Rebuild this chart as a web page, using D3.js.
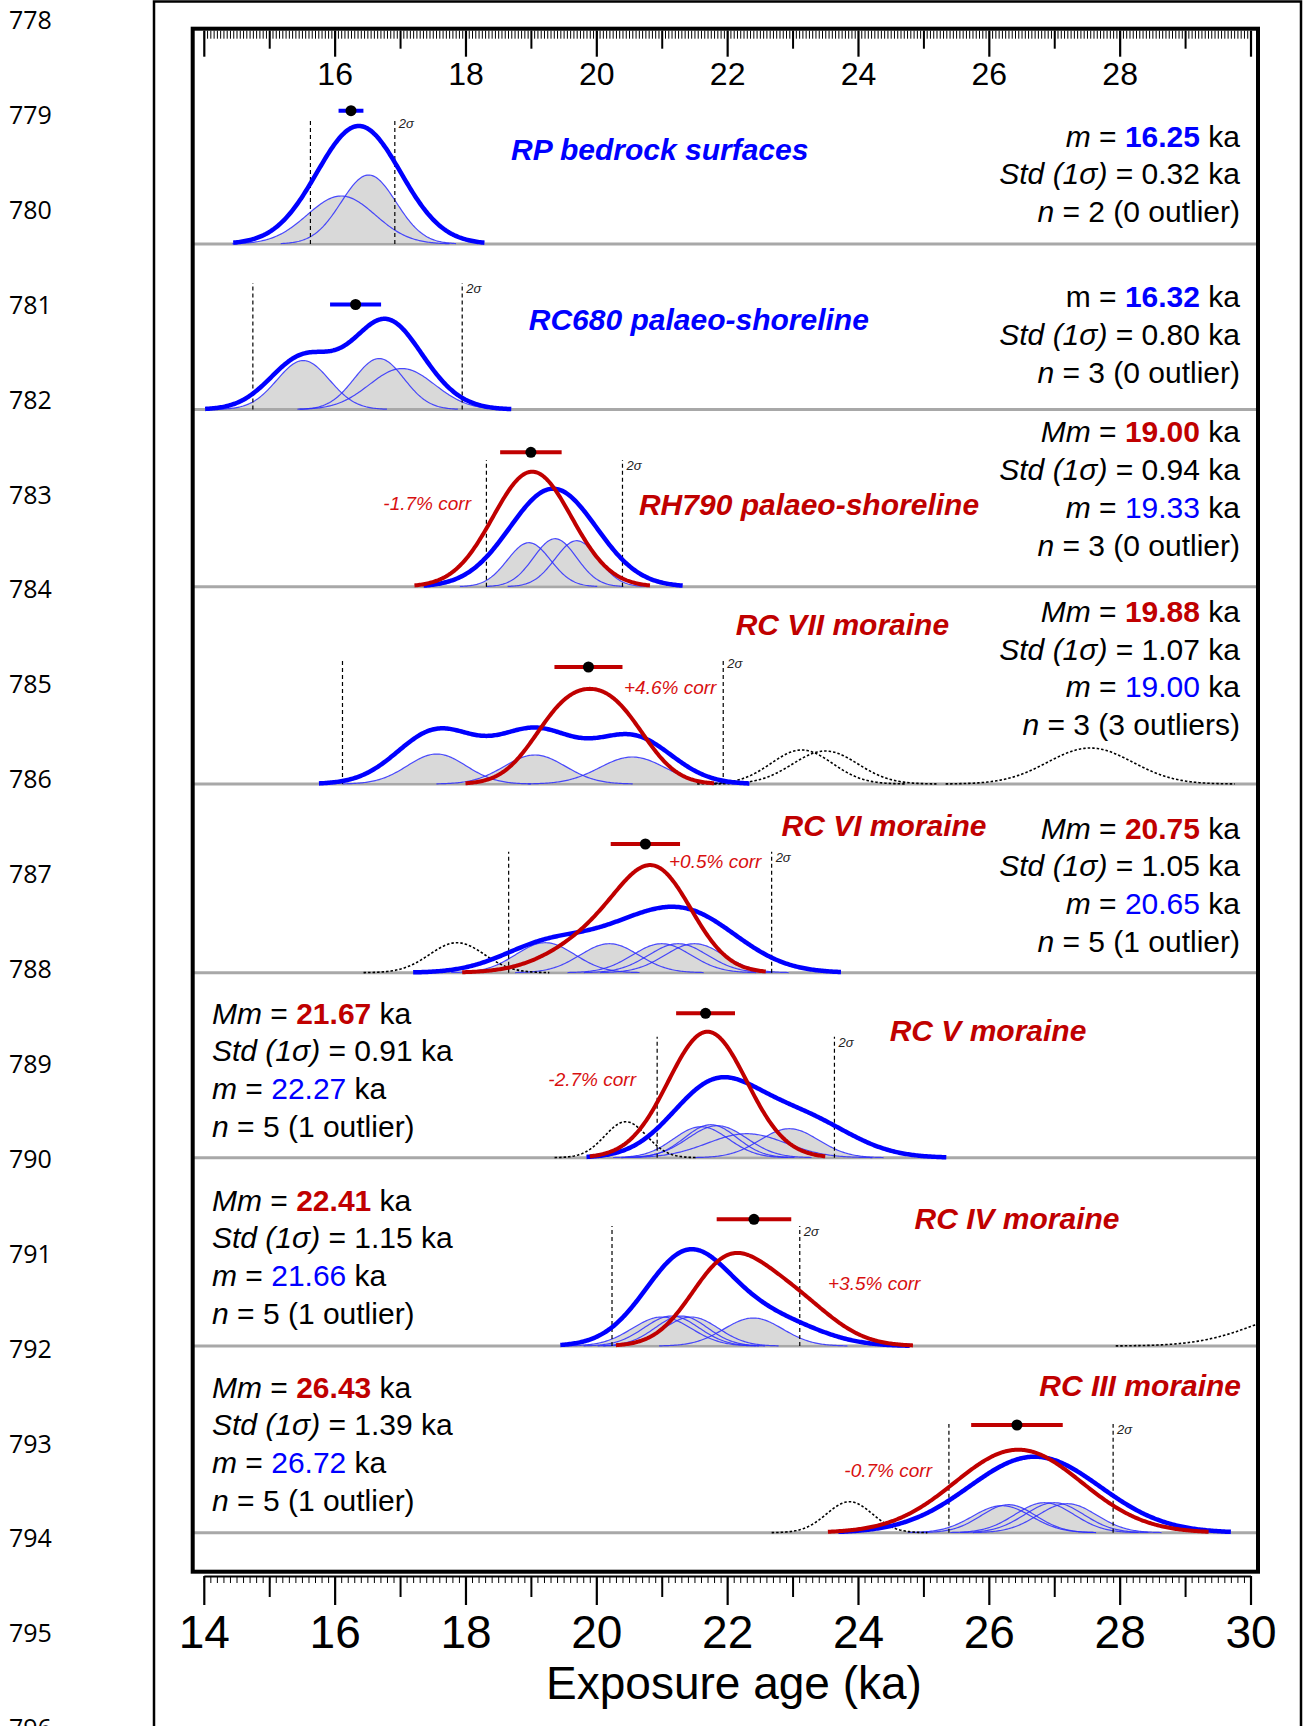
<!DOCTYPE html>
<html>
<head>
<meta charset="utf-8">
<script src="https://cdn.jsdelivr.net/npm/d3@7"></script>
<style>
  body { margin: 0; background: #fff; }
  svg text { font-family: "Liberation Sans", Arial, sans-serif; }
  svg text.linenum { font-family: "Open Sans", Lato, sans-serif; }
</style>
</head>
<body>
<svg id="fig" width="1303" height="1726"></svg>
<script>
// ---- data (ages in ka; curve components are [age, sigma, relative density]) ----
const panelTitles = ["RP bedrock surfaces", "RC680 palaeo-shoreline", "RH790 palaeo-shoreline",
    "RC VII moraine", "RC VI moraine", "RC V moraine", "RC IV moraine", "RC III moraine"];
const titleHue = ["blue", "blue", "red", "red", "red", "red", "red", "red"];
const meanMm = [null, null, 19.00, 19.88, 20.75, 21.67, 22.41, 26.43];
const meanM = [16.25, 16.32, 19.33, 19.00, 20.65, 22.27, 21.66, 26.72];
const stdKa = [0.32, 0.80, 0.94, 1.07, 1.05, 0.91, 1.15, 1.39];
const nSamples = [2, 3, 3, 3, 5, 5, 5, 5];
const nOutliers = [0, 0, 0, 3, 1, 1, 1, 1];
const corrLabel = [null, null, "-1.7% corr", "+4.6% corr", "+0.5% corr", "-2.7% corr", "+3.5% corr", "-0.7% corr"];
const twoSigma = [[15.63, 16.92], [14.75, 17.95], [18.32, 20.40], [16.12, 21.94],
    [18.66, 22.68], [20.93, 23.64], [20.24, 23.11], [25.39, 27.90]];
const errHalf = [0.19, 0.39, 0.47, 0.52, 0.53, 0.45, 0.57, 0.70];

const thinCurves = [
    [[16.10, 0.52, 0.48], [16.52, 0.42, 0.69]],
    [[15.52, 0.40, 0.49], [16.68, 0.38, 0.51], [17.03, 0.50, 0.41]],
    [[18.97, 0.33, 0.44], [19.37, 0.33, 0.48], [19.70, 0.33, 0.46]],
    [[17.56, 0.45, 0.30], [19.06, 0.47, 0.29], [20.55, 0.50, 0.27]],
    [[19.22, 0.45, 0.30], [20.20, 0.45, 0.29], [21.00, 0.45, 0.29], [21.25, 0.45, 0.29], [21.50, 0.45, 0.29]],
    [[21.60, 0.42, 0.31], [21.75, 0.40, 0.33], [21.85, 0.45, 0.32], [22.30, 0.60, 0.24], [22.95, 0.45, 0.29]],
    [[21.00, 0.45, 0.29], [21.15, 0.42, 0.30], [21.30, 0.40, 0.30], [21.45, 0.42, 0.29], [22.40, 0.45, 0.28]],
    [[26.20, 0.45, 0.27], [26.30, 0.42, 0.28], [26.85, 0.45, 0.30], [27.00, 0.45, 0.30], [27.20, 0.45, 0.29]]
];
const summedCurves = [
    [[16.37, 0.64, 1.18]],
    [[15.52, 0.50, 0.52], [16.68, 0.48, 0.56], [17.05, 0.55, 0.38]],
    [[19.34, 0.66, 0.98]],
    [[17.56, 0.60, 0.53], [19.06, 0.60, 0.52], [20.55, 0.60, 0.47]],
    [[19.30, 0.70, 0.30], [20.40, 0.60, 0.15], [21.35, 0.80, 0.60]],
    [[21.80, 0.65, 0.70], [23.10, 0.75, 0.40]],
    [[21.40, 0.65, 0.92], [22.70, 0.70, 0.25]],
    [[26.70, 1.00, 0.76]]
];
const correctedCurves = [
    null,
    null,
    [[19.02, 0.60, 1.15]],
    [[19.50, 0.50, 0.655], [20.30, 0.50, 0.655]],
    [[20.95, 0.55, 0.80], [20.20, 0.75, 0.42]],
    [[21.70, 0.60, 1.26]],
    [[21.95, 0.55, 0.72], [22.90, 0.65, 0.50]],
    [[26.45, 0.97, 0.83]]
];
const outlierCurves = [
    [],
    [],
    [],
    [[23.14, 0.47, 0.34], [23.50, 0.50, 0.33], [27.55, 0.65, 0.36]],
    [[17.87, 0.42, 0.30]],
    [[20.45, 0.32, 0.36]],
    [[31.00, 0.90, 0.36]],
    [[23.87, 0.35, 0.31]]
];
const lineNumbers = d3.range(778, 797);

// ---- layout ----
const W = 1303, H = 1726;
const box = { left: 192.7, right: 1258, top: 28.7, bottom: 1571.7 };
const panelBase = [244, 409.5, 586.7, 784, 972.7, 1157.7, 1346, 1532.7];
const dashRise = [126, 126.5, 126.7, 126, 121, 121, 120, 108.7];
const dotRise = [133.3, 105, 134.4, 117, 128.7, 144.4, 126.7, 107.7];
const titlePos = [[659.7, 159.6, "middle"], [698.8, 330, "middle"], [809, 515, "middle"], [842.4, 635, "middle"],
    [884, 836, "middle"], [988, 1041, "middle"], [1017, 1229, "middle"], [1241, 1395.5, "end"]];
const statsPos = [[1240, 146.5, "end"], [1240, 307, "end"], [1240, 442.4, "end"], [1240, 621.8, "end"],
    [1240, 838.6, "end"], [212, 1023.5, "start"], [212, 1210.5, "start"], [212, 1397.6, "start"]];
const corrPos = [null, null, [471, 510, "end"], [624, 694, "start"], [669, 868, "start"],
    [636, 1086, "end"], [828, 1290, "start"], [932, 1477, "end"]];

const BLUE = "#0000ff", RED = "#c00000", CORR = "#d81010";
const hue = { blue: BLUE, red: RED };

const svg = d3.select("#fig");

const x = d3.scaleLinear().domain([14, 30]).range([203.8, 1250.5]);
const dens = d3.scaleLinear().domain([0, 1]).range([0, 100]);

function sumAt(comps, v) {
    return d3.sum(comps, c => c[2] * Math.exp(-((v - c[0]) ** 2) / (2 * c[1] * c[1])));
}
function span(comps, k = 3.0) {
    return [d3.min(comps, c => c[0] - k * c[1]), d3.max(comps, c => c[0] + k * c[1])];
}
function grid([a, b]) {
    return d3.range(a, b + 0.001, 0.02);
}
const lineOf = comps => d3.line().x(v => x(v)).y(v => -dens(sumAt(comps, v)));

// outer page frame and line numbers
svg.append("rect")
    .attr("x", 154).attr("y", 1.5).attr("width", 1147).attr("height", H + 20)
    .attr("fill", "none").attr("stroke", "#000").attr("stroke-width", 2.5);

svg.append("g").selectAll("text")
    .data(lineNumbers)
    .join("text")
    .attr("class", "linenum")
    .attr("x", 9)
    .attr("y", (d, i) => 29 + i * 94.9)
    .attr("font-size", 25)
    .text(d => d);

// clip for the plot box
svg.append("clipPath").attr("id", "boxclip")
    .append("rect")
    .attr("x", box.left).attr("y", box.top)
    .attr("width", box.right - box.left).attr("height", box.bottom - box.top);

const plot = svg.append("g").attr("clip-path", "url(#boxclip)");

panelTitles.forEach((title, i) => {
    const g = plot.append("g").attr("transform", `translate(0,${panelBase[i]})`);

    // baseline
    g.append("line")
        .attr("x1", box.left).attr("x2", box.right)
        .attr("stroke", "#a8a8a8").attr("stroke-width", 3);

    // grey area under the individual ages
    const thin = thinCurves[i];
    g.append("path")
        .datum(grid(span(thin, 3.2)))
        .attr("fill", "#d9d9d9")
        .attr("d", d3.area()
            .x(v => x(v))
            .y0(-1.5)
            .y1(v => -dens(d3.max(thin, c => sumAt([c], v)))));

    thin.forEach(c => {
        g.append("path")
            .datum(grid(span([c], 3.2)))
            .attr("fill", "none")
            .attr("stroke", "#2b2bff")
            .attr("stroke-opacity", 0.85)
            .attr("stroke-width", 1.2)
            .attr("d", lineOf([c]));
    });

    outlierCurves[i].forEach(c => {
        g.append("path")
            .datum(grid(span([c], 3.4)))
            .attr("fill", "none")
            .attr("stroke", "#000")
            .attr("stroke-width", 1.6)
            .attr("stroke-dasharray", "2.5,2")
            .attr("d", lineOf([c]));
    });

    // 2 sigma limits
    twoSigma[i].forEach(v => {
        g.append("line")
            .attr("x1", x(v)).attr("x2", x(v))
            .attr("y1", 0).attr("y2", -dashRise[i])
            .attr("stroke", "#000").attr("stroke-width", 1.2)
            .attr("stroke-dasharray", "4,3");
    });
    g.append("text")
        .attr("x", x(twoSigma[i][1]) + 4)
        .attr("y", -dashRise[i] + 10)
        .attr("font-size", 13)
        .attr("font-style", "italic")
        .attr("fill", "#222")
        .text("2σ");

    // summed probability curve
    g.append("path")
        .datum(grid(span(summedCurves[i])))
        .attr("fill", "none")
        .attr("stroke", BLUE)
        .attr("stroke-width", 4.5)
        .attr("stroke-linejoin", "round")
        .attr("d", lineOf(summedCurves[i]));

    if (correctedCurves[i]) {
        g.append("path")
            .datum(grid(span(correctedCurves[i])))
            .attr("fill", "none")
            .attr("stroke", RED)
            .attr("stroke-width", 4)
            .attr("stroke-linejoin", "round")
            .attr("d", lineOf(correctedCurves[i]));
    }

    // mean with error bar
    const mean = meanMm[i] !== null ? meanMm[i] : meanM[i];
    const barColor = meanMm[i] !== null ? RED : BLUE;
    g.append("line")
        .attr("x1", x(mean - errHalf[i])).attr("x2", x(mean + errHalf[i]))
        .attr("y1", -dotRise[i]).attr("y2", -dotRise[i])
        .attr("stroke", barColor).attr("stroke-width", 4);
    g.append("circle")
        .attr("cx", x(mean)).attr("cy", -dotRise[i])
        .attr("r", 5.5).attr("fill", "#000");
});

// titles, stats and correction labels
const labels = svg.append("g");

panelTitles.forEach((title, i) => {
    labels.append("text")
        .attr("x", titlePos[i][0]).attr("y", titlePos[i][1])
        .attr("text-anchor", titlePos[i][2])
        .attr("font-size", 30)
        .attr("font-weight", "bold")
        .attr("font-style", "italic")
        .attr("fill", hue[titleHue[i]])
        .text(title);

    const lines = [];
    if (meanMm[i] !== null) {
        lines.push([["Mm", "i"], [" = "], [meanMm[i].toFixed(2), "br"], [" ka"]]);
        lines.push([["Std (1σ)", "i"], [` = ${stdKa[i].toFixed(2)} ka`]]);
        lines.push([["m", "i"], [" = "], [meanM[i].toFixed(2), "b"], [" ka"]]);
    } else {
        lines.push([["m", i === 1 ? "" : "i"], [" = "], [meanM[i].toFixed(2), "bb"], [" ka"]]);
        lines.push([["Std (1σ)", "i"], [` = ${stdKa[i].toFixed(2)} ka`]]);
    }
    lines.push([["n", "i"], [` = ${nSamples[i]} (${nOutliers[i]} outlier${nOutliers[i] > 1 ? "s" : ""})`]]);

    lines.forEach((segs, j) => {
        const t = labels.append("text")
            .attr("x", statsPos[i][0])
            .attr("y", statsPos[i][1] + j * 37.8)
            .attr("text-anchor", statsPos[i][2])
            .attr("font-size", 30)
            .attr("fill", "#000");
        segs.forEach(([s, st]) => {
            const sp = t.append("tspan").text(s);
            if (st === "i") sp.attr("font-style", "italic");
            if (st === "bb") sp.attr("font-weight", "bold").attr("fill", BLUE);
            if (st === "br") sp.attr("font-weight", "bold").attr("fill", RED);
            if (st === "b") sp.attr("fill", BLUE);
        });
    });

    if (corrLabel[i]) {
        labels.append("text")
            .attr("x", corrPos[i][0]).attr("y", corrPos[i][1])
            .attr("text-anchor", corrPos[i][2])
            .attr("font-size", 19)
            .attr("font-style", "italic")
            .attr("fill", CORR)
            .text(corrLabel[i]);
    }
});

// plot box
svg.append("rect")
    .attr("x", box.left).attr("y", box.top)
    .attr("width", box.right - box.left).attr("height", box.bottom - box.top)
    .attr("fill", "none").attr("stroke", "#000").attr("stroke-width", 4);

// tick layers for the ruler-style axes
function tickLayer(g, values, size, width) {
    g.append("g")
        .call(d3.axisBottom(x).tickValues(values).tickSize(size).tickSizeOuter(0).tickFormat(""))
        .call(a => a.select(".domain").remove())
        .call(a => a.selectAll(".tick line").attr("stroke-width", width));
}

// top axis (ticks inside the box)
const topAxis = svg.append("g").attr("transform", `translate(0,${box.top + 2})`);
tickLayer(topAxis, d3.range(0, 321).map(k => 14 + k * 0.05), 8, 1);
tickLayer(topAxis, d3.range(15, 30, 2), 18, 2);
topAxis.append("g")
    .call(d3.axisBottom(x).tickValues(d3.range(14, 31, 2)).tickSize(26).tickSizeOuter(0).tickPadding(6)
        .tickFormat(d => (d === 14 || d === 30) ? "" : d))
    .call(a => a.select(".domain").remove())
    .call(a => a.selectAll(".tick line").attr("stroke-width", 2.2))
    .call(a => a.selectAll("text")
        .attr("font-size", 32)
        .attr("fill", "#000"));

// bottom axis
const botY = 1576;
const botAxis = svg.append("g").attr("transform", `translate(0,${botY})`);
tickLayer(botAxis, d3.range(0, 161).map(k => 14 + k * 0.1), 7, 1);
tickLayer(botAxis, d3.range(15, 30, 2), 21, 2);
botAxis.append("g")
    .call(d3.axisBottom(x).tickValues(d3.range(14, 31, 2)).tickSize(29).tickSizeOuter(0).tickPadding(10)
        .tickFormat(d3.format("d")))
    .call(a => a.select(".domain").attr("stroke-width", 2))
    .call(a => a.selectAll(".tick line").attr("stroke-width", 2.2))
    .call(a => a.selectAll("text")
        .attr("font-size", 46)
        .attr("fill", "#000"));

svg.append("text")
    .attr("x", 734).attr("y", 1699)
    .attr("text-anchor", "middle")
    .attr("font-size", 46)
    .text("Exposure age (ka)");
</script>
</body>
</html>
